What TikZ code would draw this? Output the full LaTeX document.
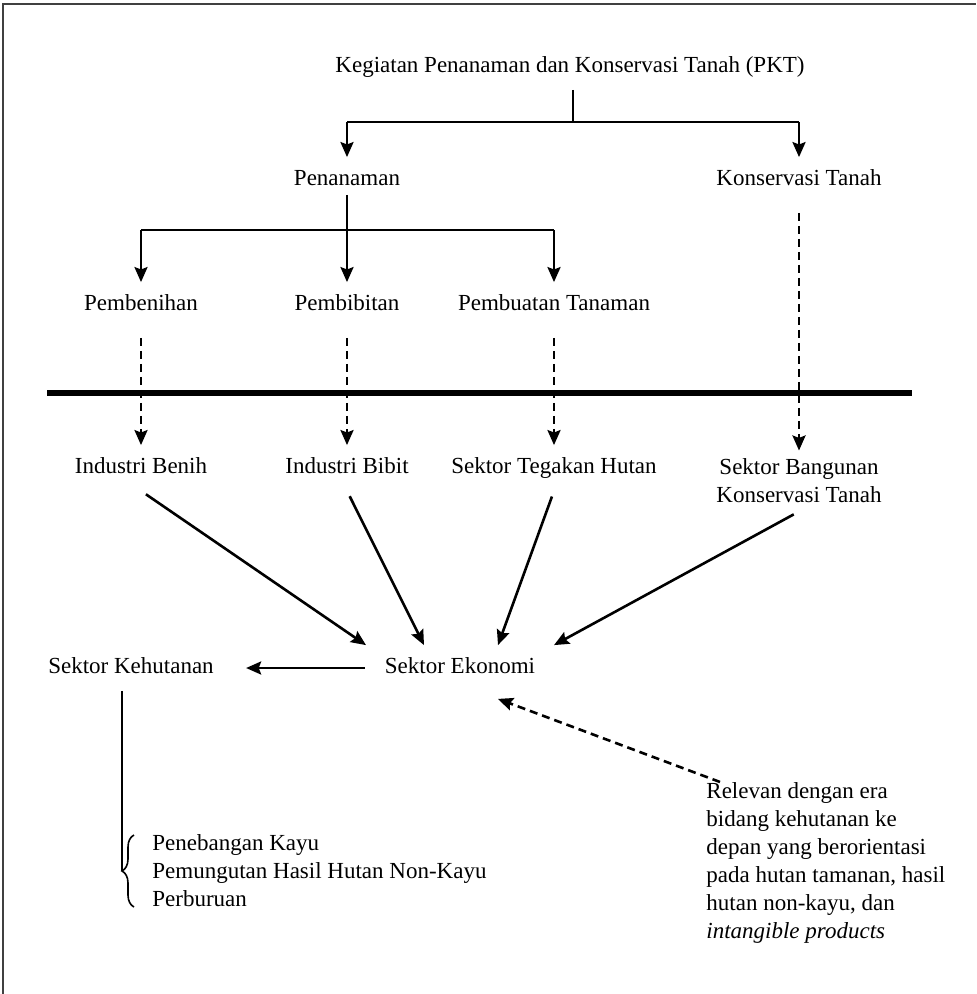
\documentclass[tikz,border=0pt]{standalone}
\usepackage{fontspec}
\setmainfont{Liberation Serif}
\usetikzlibrary{arrows.meta,positioning,calc,decorations.pathreplacing}

\begin{document}
\begin{tikzpicture}[
      x=0.5pt, y=-0.5pt,%
      font=\fontsize{11.5}{14}\selectfont,%
      box/.style={inner xsep=4pt, inner ysep=6pt, text height=8pt, text depth=2.5pt},%
      twobox/.style={inner xsep=4pt, inner ysep=4pt, align=center},%
      stem/.style={line width=0.8pt},%
      link/.style={line width=1.3pt, -{Stealth[length=7.5pt,width=6.5pt,inset=1.2pt]}},%
      hint/.style={link, dash pattern=on 4pt off 2.5pt},%
      gap/.style={shorten <=5pt}%
    ]
    \useasboundingbox (0,0) rectangle (976,994);

    %% Frame
    \draw[line width=1pt, black!75] (3,994) -- (3,4) -- (976,4);

    %% Top level
    \node[box] (pkt) at (570,67) {Kegiatan Penanaman dan Konservasi Tanah (PKT)};
    \coordinate (j1) at (573,122);
    \node[box] (tanam)  at (347,180) {Penanaman};
    \node[box] (konser) at (799,180) {Konservasi Tanah};

    \draw[stem] (j1 |- pkt.south) -- (j1);
    \draw[stem] (j1 -| tanam) -- (j1 -| konser);
    \draw[link] (j1 -| tanam) -- (tanam);
    \draw[link] (j1 -| konser) -- (konser);

    %% Penanaman branches
    \coordinate (j2) at (347,230);
    \node[box] (benih) at (141,305) {Pembenihan};
    \node[box] (bibit) at (347,305) {Pembibitan};
    \node[box] (buat)  at (554,305) {Pembuatan Tanaman};

    \draw[stem, shorten <=-4pt] (tanam) -- (j2);
    \draw[stem] (j2 -| benih) -- (j2 -| buat);
    \draw[link] (j2 -| benih) -- (benih);
    \draw[link] (j2) -- (bibit);
    \draw[link] (j2 -| buat) -- (buat);

    %% Divider
    \draw[line width=3pt] (47,393) -- (912,393);

    %% Sectors
    \node[box]    (indbenih) at (141,468) {Industri Benih};
    \node[box]    (indbibit) at (347,468) {Industri Bibit};
    \node[box]    (tegakan)  at (554,468) {Sektor Tegakan Hutan};
    \node[twobox] (bangunan) at (799,481) {Sektor Bangunan\\Konservasi Tanah};

    \draw[hint, gap] (benih)  -- (indbenih);
    \draw[hint, gap] (bibit)  -- (indbibit);
    \draw[hint, gap] (buat)   -- (tegakan);
    \draw[hint, gap] (konser) -- (bangunan);

    %% Economy
    \node[box] (ekonomi) at (460,668) {Sektor Ekonomi};
    \node[box] (hutan)   at (131,668) {Sektor Kehutanan};

    \draw[link, shorten <=3pt] (indbenih.south) -- ([xshift=-47pt]ekonomi.north);
    \draw[link, shorten <=3pt] (indbibit.south) -- ([xshift=-18pt]ekonomi.north);
    \draw[link, shorten <=3pt] (tegakan.south)  -- ([xshift=19pt]ekonomi.north);
    \draw[link, shorten <=3pt] (bangunan.south) -- ([xshift=47pt]ekonomi.north);
    \draw[link, shorten <=6pt, shorten >=12pt] (ekonomi.west) -- (hutan.east);

    %% Forestry activities
    \coordinate (tip) at (122,871);
    \draw[stem] (hutan.south -| tip) -- (tip);
    \draw[stem, decorate, decoration={brace, amplitude=6pt}] (134,907) -- (134,835);
    \node[anchor=west, align=left, inner sep=0pt] (kegiatan) at (152,871)
      {Penebangan Kayu\\Pemungutan Hasil Hutan Non-Kayu\\Perburuan};

    %% Note
    \node[anchor=north west, align=left, inner sep=0pt] (relevan) at (706,782)
      {Relevan dengan era\\bidang kehutanan ke\\depan yang berorientasi\\pada hutan tamanan, hasil\\hutan non-kayu, dan\\\textit{intangible products}};
    \draw[hint] ([xshift=7pt]relevan.north west) -- ([xshift=19pt,yshift=-4pt]ekonomi.south);
  \end{tikzpicture}
\end{document}
